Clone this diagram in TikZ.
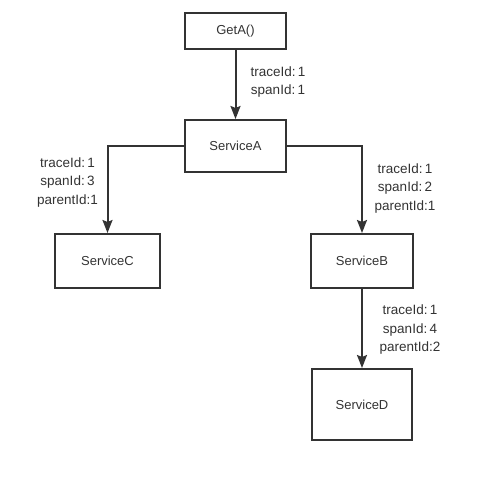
\documentclass[tikz,border=0pt]{standalone}
\usepackage{fontspec}
\setmainfont{Liberation Sans}
\usetikzlibrary{arrows.meta}

\definecolor{ink}{HTML}{333333}
\tikzset{
  svc/.style={draw=ink, line width=2pt, text=ink, font=\fontsize{13}{15}\selectfont, inner sep=0pt},
  ids/.style={text=ink, align=center, font=\fontsize{13.5}{18.5}\selectfont},
  call/.style={draw=ink, line width=2pt, -{Stealth[length=13pt,width=10pt,inset=2pt]}}
}

\begin{document}
\begin{tikzpicture}[x=1pt,y=-1pt]
  \useasboundingbox (0,0) rectangle (495,477);
  \node[svc, minimum width=101pt, minimum height=36pt] (geta) at (235.5,31) {GetA()};
  \node[svc, minimum width=101pt, minimum height=52pt] (sa) at (235.5,146) {ServiceA};
  \node[svc, minimum width=105pt, minimum height=54pt] (sc) at (107.5,261) {ServiceC};
  \node[svc, minimum width=102pt, minimum height=54pt] (sb) at (362,261) {ServiceB};
  \node[svc, minimum width=100pt, minimum height=71pt] (sd) at (362,404.5) {ServiceD};
  % span labels
  \node[ids] (la) at (278,82) {traceId:\,1\\spanId:\,1};
  \node[ids] (lc) at (67.5,182.5) {traceId:\,1\\spanId:\,3\\parentId:1};
  \node[ids] (lb) at (405,188.5) {traceId:\,1\\spanId:\,2\\parentId:1};
  \node[ids] (ld) at (410,330) {traceId:\,1\\spanId:\,4\\parentId:2};
  \draw[call] (geta) -- (sa);
  \draw[call] (sa.west) -| (sc.north);
  \draw[call] (sa.east) -| (sb.north);
  \draw[call] (sb) -- (sd);
\end{tikzpicture}
\end{document}
